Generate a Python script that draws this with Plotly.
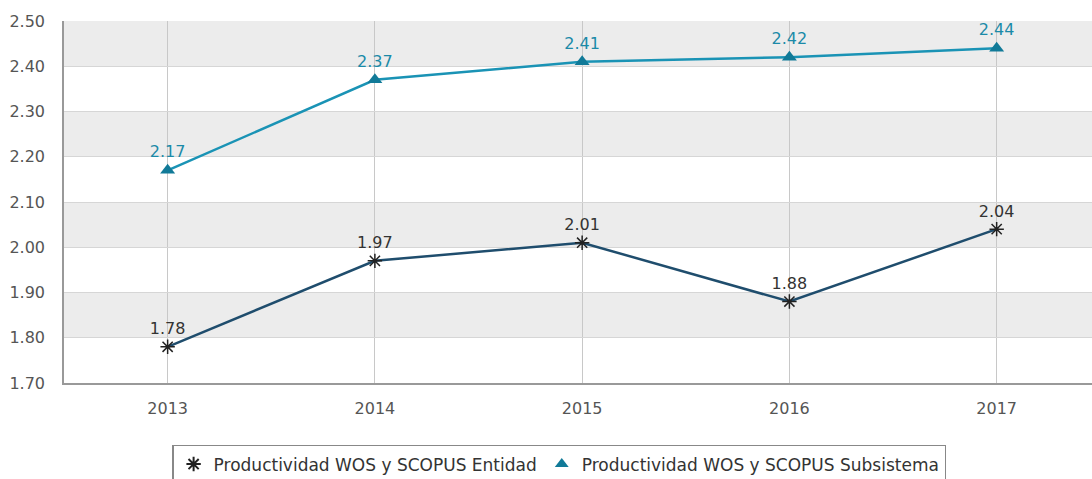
import plotly.graph_objects as go

years = ["2013", "2014", "2015", "2016", "2017"]
entidad = [1.78, 1.97, 2.01, 1.88, 2.04]
subsistema = [2.17, 2.37, 2.41, 2.42, 2.44]
bands = [(1.80, 1.90), (2.00, 2.10), (2.20, 2.30), (2.40, 2.50)]
yticks = [1.70, 1.80, 1.90, 2.00, 2.10, 2.20, 2.30, 2.40, 2.50]
name_ent = "Productividad WOS y SCOPUS Entidad"
name_sub = "Productividad WOS y SCOPUS Subsistema"

ent_line = "#1f4d6d"
ent_marker = "#222222"
sub_line = "#1a93b5"
sub_marker = "#117a98"
sub_text = "#1b8aa8"

fig = go.Figure()
fig.add_trace(go.Scatter(
    x=years, y=entidad, mode="lines+markers+text", showlegend=False,
    text=[f"{v:.2f}" for v in entidad], textposition="top center",
    textfont=dict(color="#333333", size=16), cliponaxis=False,
    line=dict(color=ent_line, width=2.5),
    marker=dict(symbol="asterisk-open", size=12, color=ent_marker,
                line=dict(color=ent_marker, width=1.5)),
))
fig.add_trace(go.Scatter(
    x=years, y=subsistema, mode="lines+markers+text", showlegend=False,
    text=[f"{v:.2f}" for v in subsistema], textposition="top center",
    textfont=dict(color=sub_text, size=16), cliponaxis=False,
    line=dict(color=sub_line, width=2.5),
    marker=dict(symbol="triangle-up", size=13, color=sub_marker),
))
# legend-only entries (marker only, as in the reference legend)
fig.add_trace(go.Scatter(
    x=[None], y=[None], mode="markers", name=name_ent,
    marker=dict(symbol="asterisk-open", size=12, color=ent_marker,
                line=dict(color=ent_marker, width=1.5)),
))
fig.add_trace(go.Scatter(
    x=[None], y=[None], mode="markers", name=name_sub,
    marker=dict(symbol="triangle-up", size=13, color=sub_marker),
))

for lo, hi in bands:
    fig.add_shape(type="rect", xref="paper", yref="y", x0=0, x1=1, y0=lo, y1=hi,
                  fillcolor="#ececec", line=dict(width=0), layer="below")

fig.update_layout(
    width=1092, height=479,
    margin=dict(l=64, r=0, t=21, b=96, autoexpand=False),
    paper_bgcolor="white", plot_bgcolor="white",
    font=dict(family="DejaVu Sans", size=16, color="#555555"),
    showlegend=True,
    legend=dict(orientation="h", xref="container", yref="container",
                x=0.512, xanchor="center", y=0.071, yanchor="top",
                bordercolor="#888888", borderwidth=1.5,
                font=dict(size=17, color="#333333"), bgcolor="white",
                itemsizing="constant"),
)
fig.update_xaxes(type="category", range=[-0.5, 4.46], showgrid=True, gridcolor="#c8c8c8",
                 showline=True, linecolor="#999999", linewidth=1.5, ticks="", zeroline=False,
                 ticklabelstandoff=10, tickfont=dict(size=16, color="#555555"))
fig.update_yaxes(range=[1.70, 2.50], tickvals=yticks, ticktext=[f"{v:.2f}" for v in yticks],
                 showgrid=True, gridcolor="#d6d6d6", showline=True, linecolor="#999999",
                 linewidth=1.5, zeroline=False, ticks="", ticklabelstandoff=14,
                 tickfont=dict(size=16, color="#555555"))

fig.write_html("out.html", config={"displayModeBar": False},
               post_script="document.body.style.margin='0';document.body.style.overflow='hidden';")
